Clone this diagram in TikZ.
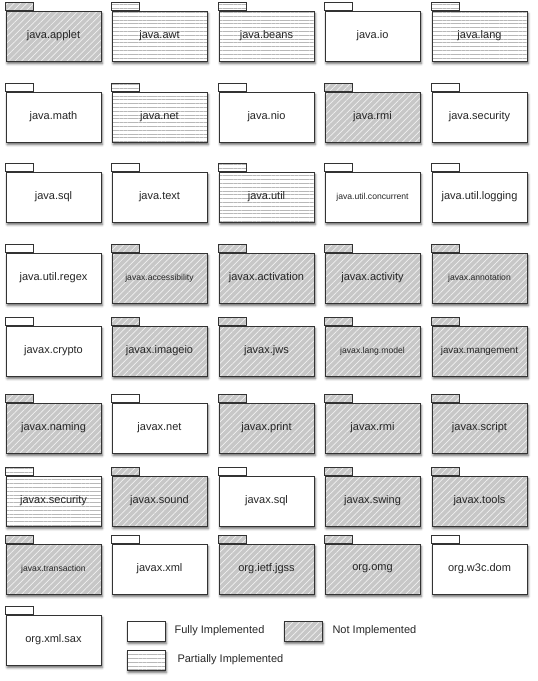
\documentclass[tikz,border=0pt]{standalone}
\usepackage{fontspec}
\setmainfont{Liberation Sans}
\usetikzlibrary{patterns.meta,shadows.blur}

\tikzset{
  pkgline/.style={draw=black!80, line width=0.8pt},
  full/.style={fill=white},
  part/.style={preaction={fill=white}, pattern={Lines[angle=0,distance=3.8pt,line width=0.5pt]}, pattern color=black!28},
  none/.style={preaction={fill=black!22}, pattern={Lines[angle=45,distance=4.6pt,line width=0.7pt]}, pattern color=black!6},
  shade/.style={blur shadow={shadow xshift=1.2pt, shadow yshift=-2.6pt, shadow blur radius=2.4pt, shadow opacity=60}},
  tabbed/.style={append after command={\pgfextra{\draw[pkgline,#1] (\tikzlastnode.north west) rectangle ([xshift=28pt,yshift=8pt]\tikzlastnode.north west);}}},
  pkg/.style={pkgline, shade, #1, minimum width=95pt, minimum height=50pt, inner sep=1pt,
    text=black!85, font=\fontsize{11}{13}\selectfont, tabbed=#1},
  small/.style={font=\fontsize{8.6}{10}\selectfont},
  legbox/.style={pkgline, shade, #1, minimum width=38pt, minimum height=20pt, inner sep=0pt},
  legtext/.style={anchor=west, text=black!85, font=\fontsize{11}{13}\selectfont}
}

\begin{document}
\begin{tikzpicture}[x=1pt,y=-1pt]
\useasboundingbox (0,0) rectangle (538,681);

\node[pkg=none] (applet) at (53.5,36) {java.applet};
\node[pkg=part] (awt) at (159.5,36) {java.awt};
\node[pkg=part] (beans) at (266.5,36) {java.beans};
\node[pkg=full] (io) at (372.5,36) {java.io};
\node[pkg=part] (lang) at (479.5,36) {java.lang};

\node[pkg=full] (math) at (53.5,117) {java.math};
\node[pkg=part] (net) at (159.5,117) {java.net};
\node[pkg=full] (nio) at (266.5,117) {java.nio};
\node[pkg=none] (rmi) at (372.5,117) {java.rmi};
\node[pkg=full] (security) at (479.5,117) {java.security};

\node[pkg=full] (sql) at (53.5,197) {java.sql};
\node[pkg=full] (text) at (159.5,197) {java.text};
\node[pkg=part] (util) at (266.5,197) {java.util};
\node[pkg=full, small] (concurrent) at (372.5,197) {java.util.concurrent};
\node[pkg=full] (logging) at (479.5,197) {java.util.logging};

\node[pkg=full] (regex) at (53.5,278) {java.util.regex};
\node[pkg=none, small] (accessibility) at (159.5,278) {javax.accessibility};
\node[pkg=none] (activation) at (266.5,278) {javax.activation};
\node[pkg=none] (activity) at (372.5,278) {javax.activity};
\node[pkg=none, small] (annotation) at (479.5,278) {javax.annotation};

\node[pkg=full] (crypto) at (53.5,351) {javax.crypto};
\node[pkg=none] (imageio) at (159.5,351) {javax.imageio};
\node[pkg=none] (jws) at (266.5,351) {javax.jws};
\node[pkg=none, small] (langmodel) at (372.5,351) {javax.lang.model};
\node[pkg=none, font=\fontsize{9.8}{12}\selectfont] (mangement) at (479.5,351) {javax.mangement};

\node[pkg=none] (naming) at (53.5,428) {javax.naming};
\node[pkg=full] (xnet) at (159.5,428) {javax.net};
\node[pkg=none] (print) at (266.5,428) {javax.print};
\node[pkg=none] (xrmi) at (372.5,428) {javax.rmi};
\node[pkg=none] (script) at (479.5,428) {javax.script};

\node[pkg=part] (xsecurity) at (53.5,501) {javax.security};
\node[pkg=none] (sound) at (159.5,501) {javax.sound};
\node[pkg=full] (xsql) at (266.5,501) {javax.sql};
\node[pkg=none] (swing) at (372.5,501) {javax.swing};
\node[pkg=none] (tools) at (479.5,501) {javax.tools};

\node[pkg=none, small] (transaction) at (53.5,569) {javax.transaction};
\node[pkg=full] (xml) at (159.5,569) {javax.xml};
\node[pkg=none] (jgss) at (266.5,569) {org.ietf.jgss};
\node[pkg=none] (omg) at (372.5,569) {org.omg};
\node[pkg=full] (dom) at (479.5,569) {org.w3c.dom};

\node[pkg=full] (sax) at (53.5,640) {org.xml.sax};

% legend
\node[legbox=full] (legfull) at (146,631) {};
\node[legtext] at (171,631) {Fully Implemented};
\node[legbox=none] (legnone) at (303,631) {};
\node[legtext] at (329,631) {Not Implemented};
\node[legbox=part] (legpart) at (146,660) {};
\node[legtext] at (174,660) {Partially Implemented};
\end{tikzpicture}
\end{document}
